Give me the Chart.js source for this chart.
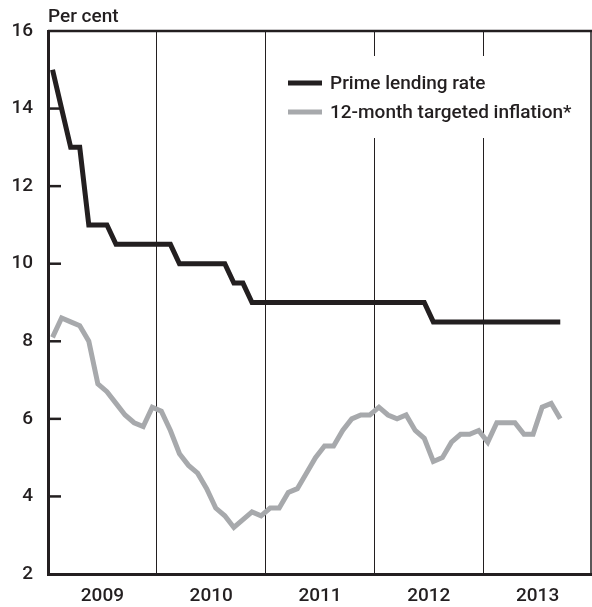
<!DOCTYPE html>
<html>
<head>
<meta charset="utf-8">
<title>Prime lending rate and targeted inflation</title>
<script src="https://cdn.jsdelivr.net/npm/chart.js@4/dist/chart.umd.min.js"></script>
<style>
    html, body { margin: 0; padding: 0; background: #fff; }
    #wrap { width: 592px; height: 607px; }
</style>
</head>
<body>
<div id="wrap"><canvas id="chrt" width="592" height="607"></canvas></div>
<script>
"use strict";

// monthly, Jan 2009 .. Sep 2013
const years = ["2009", "2010", "2011", "2012", "2013"];
const primeRate = [
    15, 14, 13, 13, 11, 11, 11, 10.5, 10.5, 10.5, 10.5, 10.5,
    10.5, 10.5, 10, 10, 10, 10, 10, 10, 9.5, 9.5, 9, 9,
    9, 9, 9, 9, 9, 9, 9, 9, 9, 9, 9, 9,
    9, 9, 9, 9, 9, 9, 8.5, 8.5, 8.5, 8.5, 8.5, 8.5,
    8.5, 8.5, 8.5, 8.5, 8.5, 8.5, 8.5, 8.5, 8.5
];
const inflation = [
    8.1, 8.6, 8.5, 8.4, 8.0, 6.9, 6.7, 6.4, 6.1, 5.9, 5.8, 6.3,
    6.2, 5.7, 5.1, 4.8, 4.6, 4.2, 3.7, 3.5, 3.2, 3.4, 3.6, 3.5,
    3.7, 3.7, 4.1, 4.2, 4.6, 5.0, 5.3, 5.3, 5.7, 6.0, 6.1, 6.1,
    6.3, 6.1, 6.0, 6.1, 5.7, 5.5, 4.9, 5.0, 5.4, 5.6, 5.6, 5.7,
    5.4, 5.9, 5.9, 5.9, 5.6, 5.6, 6.3, 6.4, 6.0
];
const seriesNames = ["Prime lending rate", "12-month targeted inflation*"];
const seriesColours = ["#231f20", "#a7a9ac"];
const yTicks = [2, 4, 6, 8, 10, 12, 14, 16];

const ink = "#231f20";
const fontFamily = "Roboto, 'Liberation Sans', Arial, sans-serif";
const fontWeight = 500;
const fontSize = 19;

function monthly(values) {
    // month i is drawn in the middle of its month slot
    return values.map(function(v, i) {
        return { x: i + 0.5, y: v };
    });
}

const extras = {
    id: "extras",
    beforeDatasetsDraw: function(chart) {
        let ctx = chart.ctx;
        let area = chart.chartArea;
        let yScale = chart.scales.y;
        ctx.save();
        ctx.strokeStyle = ink;
        // inward tick marks on the left axis
        ctx.lineWidth = 2.5;
        yTicks.forEach(function(v) {
            if (v <= yScale.min || v >= yScale.max) return;
            let py = yScale.getPixelForValue(v);
            ctx.beginPath();
            ctx.moveTo(area.left, py);
            ctx.lineTo(area.left + 13, py);
            ctx.stroke();
        });
        // top and right frame
        ctx.lineWidth = 2.5;
        ctx.beginPath();
        ctx.moveTo(area.left, area.top);
        ctx.lineTo(area.right, area.top);
        ctx.stroke();
        ctx.lineWidth = 1.5;
        ctx.beginPath();
        ctx.moveTo(area.right - 1, area.top);
        ctx.lineTo(area.right - 1, area.bottom);
        ctx.stroke();
        // unit label
        ctx.fillStyle = ink;
        ctx.font = fontWeight + " " + fontSize + "px " + fontFamily;
        ctx.textAlign = "left";
        ctx.textBaseline = "middle";
        ctx.fillText("Per cent", area.left, area.top - 14);
        ctx.restore();
    },
    afterDatasetsDraw: function(chart) {
        let ctx = chart.ctx;
        let area = chart.chartArea;
        let boxLeft = area.left + 232;
        let boxTop = area.top + 25;
        ctx.save();
        ctx.fillStyle = "#fff";
        ctx.fillRect(boxLeft, boxTop, area.right - 2 - boxLeft, 82);
        ctx.font = fontWeight + " " + fontSize + "px " + fontFamily;
        ctx.textAlign = "left";
        ctx.textBaseline = "middle";
        chart.data.datasets.forEach(function(ds, i) {
            let py = boxTop + 27 + i * 29;
            ctx.strokeStyle = ds.borderColor;
            ctx.lineWidth = 5;
            ctx.beginPath();
            ctx.moveTo(boxLeft + 8, py);
            ctx.lineTo(boxLeft + 42, py);
            ctx.stroke();
            ctx.fillStyle = ink;
            ctx.fillText(ds.label, boxLeft + 50, py + 1);
        });
        ctx.restore();
    }
};

new Chart(document.getElementById("chrt"), {
    type: "line",
    data: {
        datasets: [ {
            label: seriesNames[0],
            data: monthly(primeRate),
            borderColor: seriesColours[0],
            backgroundColor: seriesColours[0],
            borderWidth: 5,
            pointRadius: 0,
            tension: 0
        }, {
            label: seriesNames[1],
            data: monthly(inflation),
            borderColor: seriesColours[1],
            backgroundColor: seriesColours[1],
            borderWidth: 5,
            pointRadius: 0,
            tension: 0
        } ]
    },
    options: {
        responsive: false,
        animation: false,
        events: [],
        layout: {
            padding: { top: 31, right: 0, left: 0, bottom: 0 }
        },
        plugins: {
            legend: { display: false },
            tooltip: { enabled: false }
        },
        scales: {
            x: {
                type: "linear",
                min: 0,
                max: years.length * 12,
                afterBuildTicks: function(scale) {
                    let ticks = [];
                    for (let m = 0; m <= years.length * 12; m += 6) ticks.push({ value: m });
                    scale.ticks = ticks;
                },
                afterFit: function(scale) {
                    scale.height = 33;
                    scale.paddingLeft = 0;
                    scale.paddingRight = 0;
                },
                grid: {
                    drawTicks: false,
                    lineWidth: 1,
                    color: function(c) {
                        return c.tick && c.tick.value % 12 === 0 ? ink : "rgba(0,0,0,0)";
                    }
                },
                border: { display: true, color: ink, width: 3 },
                ticks: {
                    autoSkip: false,
                    maxRotation: 0,
                    padding: 11,
                    color: ink,
                    font: { family: fontFamily, size: fontSize, weight: fontWeight },
                    callback: function(v) {
                        return v % 12 === 6 ? years[(v - 6) / 12] : "";
                    }
                }
            },
            y: {
                min: yTicks[0],
                max: yTicks[yTicks.length - 1],
                afterBuildTicks: function(scale) {
                    scale.ticks = yTicks.map(function(v) { return { value: v }; });
                },
                afterFit: function(scale) {
                    scale.width = 48;
                },
                grid: { display: false, drawTicks: false },
                border: { display: true, color: ink, width: 3 },
                ticks: {
                    padding: 15,
                    color: ink,
                    font: { family: fontFamily, size: fontSize, weight: fontWeight }
                }
            }
        }
    },
    plugins: [ extras ]
});
</script>
</body>
</html>
